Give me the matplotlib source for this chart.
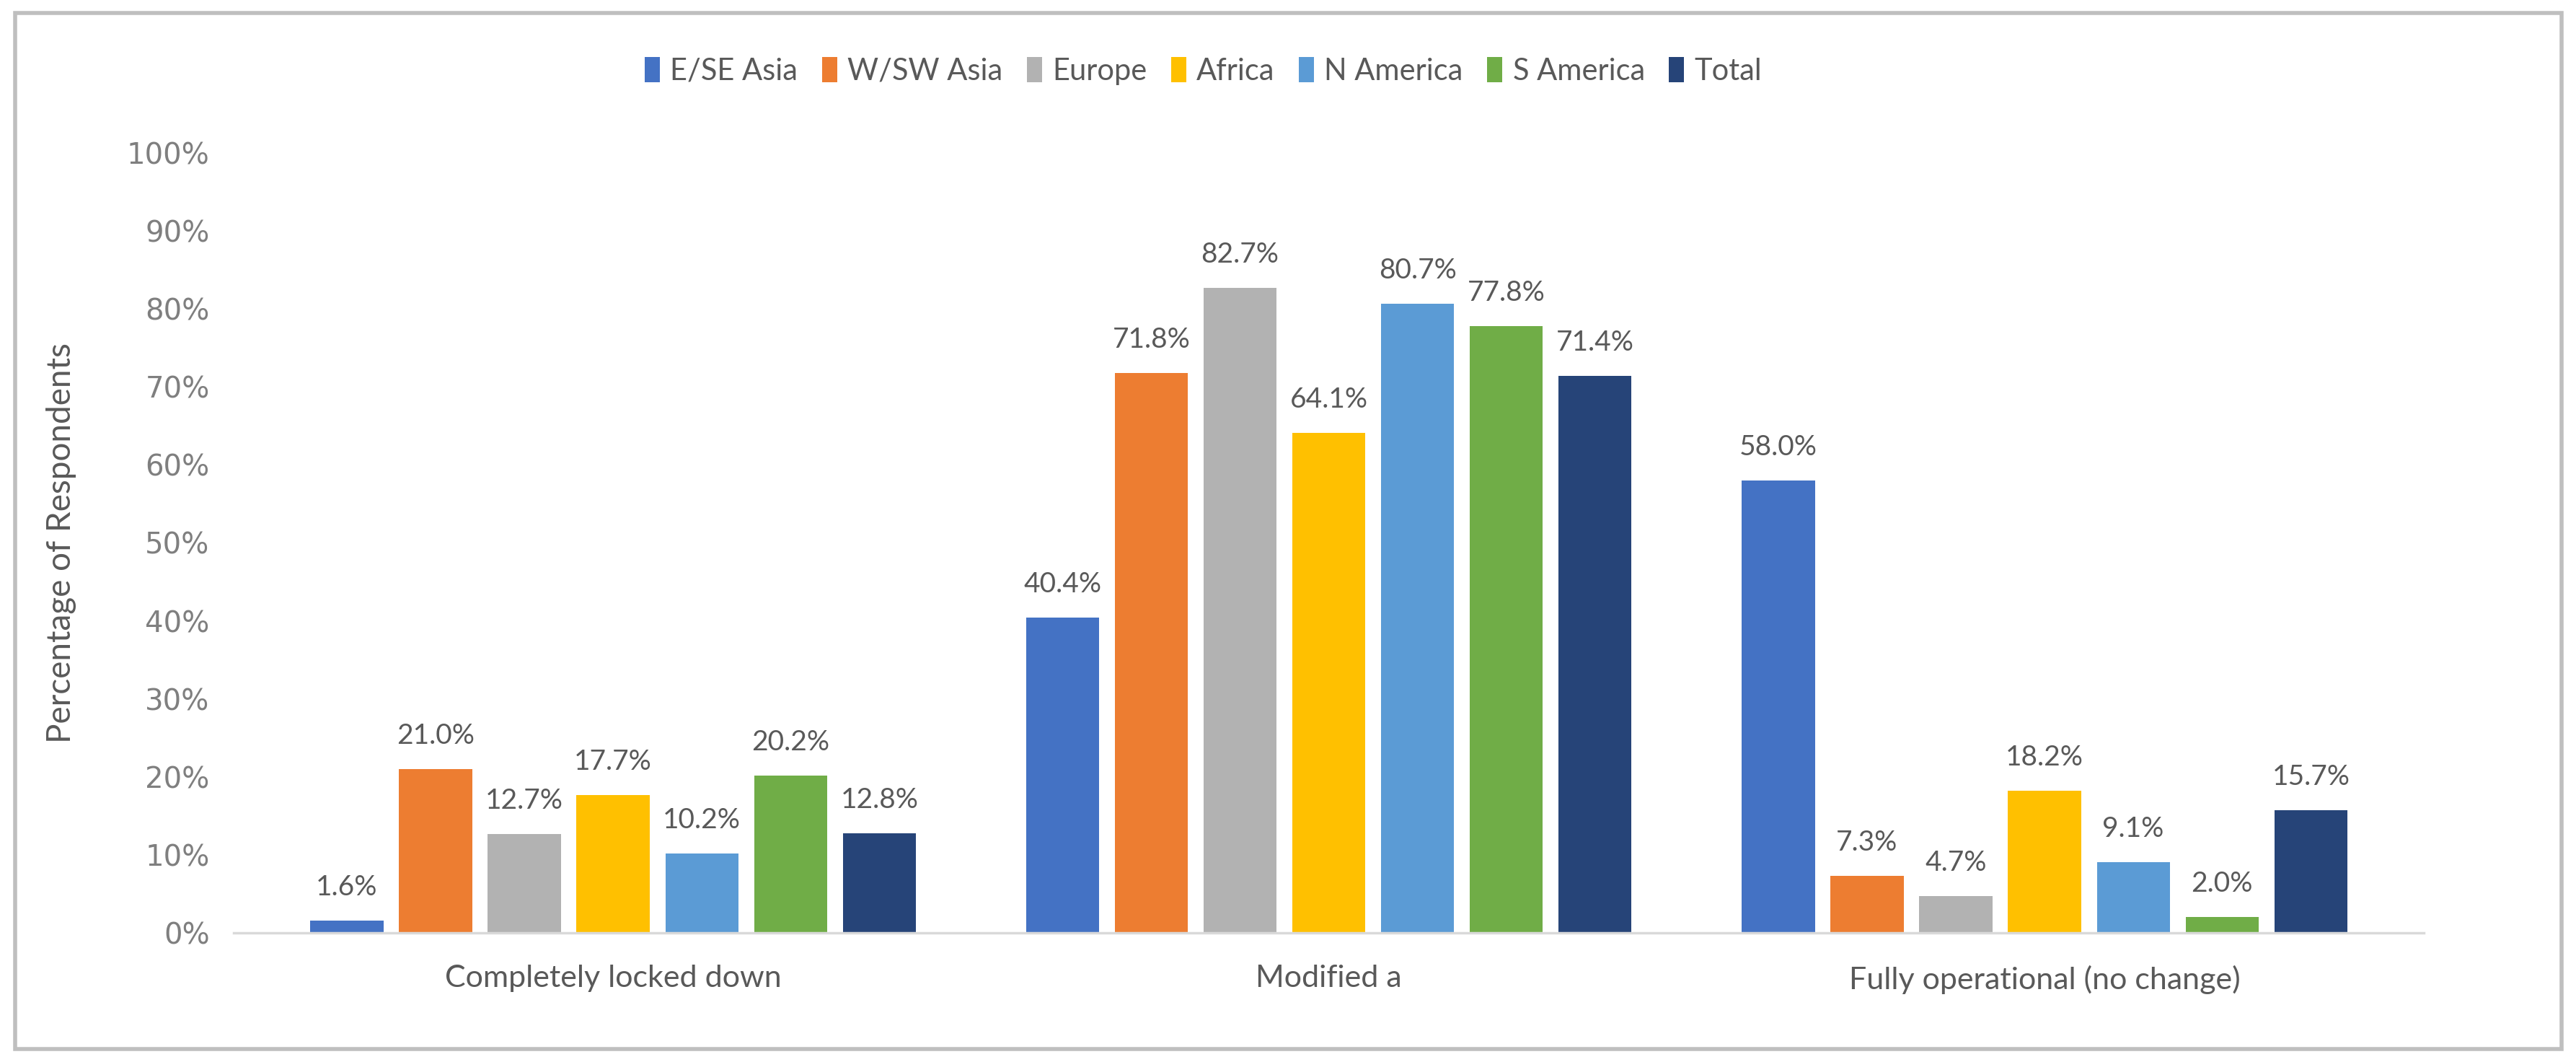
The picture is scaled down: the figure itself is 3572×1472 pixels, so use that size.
import numpy as np
from matplotlib import pyplot as plt
from matplotlib.patches import Rectangle

categories = ['Completely locked down', 'Modified a', 'Fully operational (no change)']
regions = ['E/SE Asia', 'W/SW Asia', 'Europe', 'Africa', 'N America', 'S America', 'Total']
e_se_asia = [1.6, 40.4, 58.0]
w_sw_asia = [21.0, 71.8, 7.3]
europe = [12.7, 82.7, 4.7]
africa = [17.7, 64.1, 18.2]
n_america = [10.2, 80.7, 9.1]
s_america = [20.2, 77.8, 2.0]
total = [12.8, 71.4, 15.7]
y_ticks = [0, 10, 20, 30, 40, 50, 60, 70, 80, 90, 100]

colors = ['#4472C4', '#ED7D31', '#B2B2B2', '#FFC000', '#5B9BD5', '#70AD47', '#264478']
narrow = ['Lato', 'DejaVu Sans']
label_color = '#595959'


def make_chart():
    series = [e_se_asia, w_sw_asia, europe, africa, n_america, s_america, total]
    fig = plt.figure(figsize=(35.73, 14.72), dpi=100)
    ax = fig.add_axes([0.0907, 0.1216, 0.85, 0.7344])

    x = np.arange(len(categories))
    slot = 0.124
    width = 0.102
    for i, (name, vals) in enumerate(zip(regions, series)):
        pos = x + (i - 3) * slot
        bars = ax.bar(pos, vals, width=width, color=colors[i], label=name)
        for b, v in zip(bars, vals):
            ax.text(b.get_x() + b.get_width() / 2, v + 2.6, f'{v:.1f}%',
                    ha='center', va='bottom', fontsize=28, color=label_color, family=narrow)

    ax.set_xlim(-0.53, 2.53)
    ax.set_ylim(0, 100)
    ax.set_yticks(y_ticks)
    ax.set_yticklabels([f'{t}%' for t in y_ticks], fontsize=29, color='#7F7F7F')
    ax.set_xticks(x)
    ax.set_xticklabels(categories, fontsize=31, color=label_color, family=narrow)
    ax.tick_params(axis='both', length=0)
    ax.tick_params(axis='x', pad=32)
    ax.tick_params(axis='y', pad=24)
    for side in ['top', 'right', 'left']:
        ax.spines[side].set_visible(False)
    ax.spines['bottom'].set_color('#D9D9D9')
    ax.spines['bottom'].set_linewidth(2.5)
    ax.set_ylabel('Percentage of Respondents', fontsize=33, color=label_color, family=narrow, labelpad=50)

    fig.legend(loc='center', bbox_to_anchor=(0.467, 0.933), ncol=7, frameon=False,
               prop={'family': narrow, 'size': 30}, labelcolor=label_color,
               handlelength=0.5, handleheight=0.9, handletextpad=0.35, columnspacing=0.8)

    fig.patches.append(Rectangle((0.006, 0.012), 0.988, 0.976, transform=fig.transFigure,
                                 fill=False, edgecolor='#BFBFBF', linewidth=4))
    fig.savefig('out.png', dpi=100, facecolor='white')


if __name__ == '__main__':
    make_chart()
